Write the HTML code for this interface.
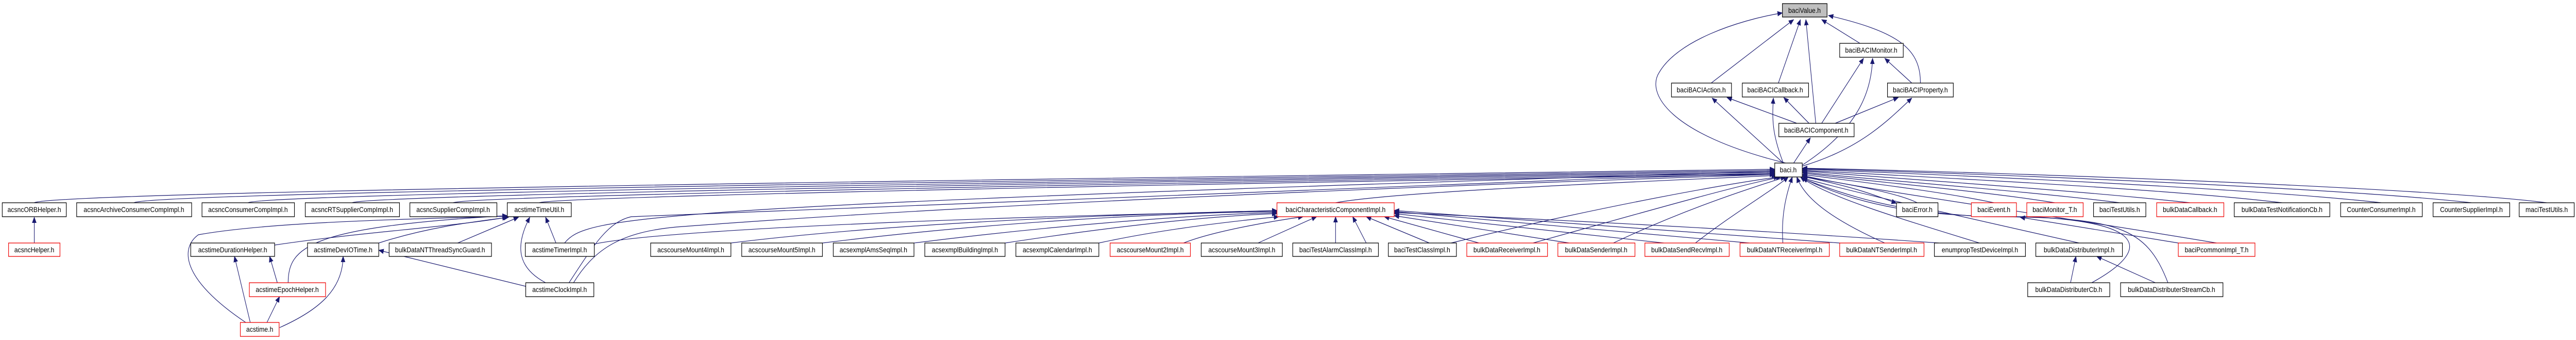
<!DOCTYPE html>
<html><head><meta charset="utf-8"><style>
html,body{margin:0;padding:0;background:#fff;overflow:hidden;width:100%;height:100%}
svg{display:block;width:100vw;height:100vh}
text{font-family:"Liberation Sans",sans-serif;font-size:14px;text-anchor:middle;fill:#000}
.n{fill:#fff;stroke:#000;stroke-width:1.3}
.r{fill:#fff;stroke:#e00;stroke-width:1.3}
.e{fill:none;stroke:#191970;stroke-width:1.2}
</style></head><body>
<svg viewBox="0 0 5713 659" preserveAspectRatio="none" xmlns="http://www.w3.org/2000/svg">
<defs><marker id="a" markerUnits="userSpaceOnUse" markerWidth="12" markerHeight="10" refX="11" refY="5" orient="auto"><path d="M0,0 L12,5 L0,10 z" fill="#191970"/></marker></defs>
<g class="e" marker-end="url(#a)">
<path d="M3960,316 C3700,260 3650,180 3680,140 C3720,80 3850,40 3953,25"/>
<path d="M3795,161 L3978,38"/>
<path d="M3944,161 L3993,38"/>
<path d="M4027,239 L4005,38"/>
<path d="M4125,84 L4040,38"/>
<path d="M4259,161 C4260,90 4200,60 4055,30"/>
<path d="M4240,161 L4180,113"/>
<path d="M3985,239 L3830,189"/>
<path d="M4012,239 L3956,189"/>
<path d="M4040,239 L4133,113"/>
<path d="M4070,239 L4210,189"/>
<path d="M3955,316 L3797,190"/>
<path d="M3955,316 C3930,260 3930,230 3933,190"/>
<path d="M3978,316 L4015,267"/>
<path d="M3997,320 C4120,250 4150,180 4153,113"/>
<path d="M3997,322 C4120,290 4180,240 4240,190"/>
<path d="M76,393 C120,370 2500,345 3936,328"/>
<path d="M297,393 C330,372 2500,348 3936,330"/>
<path d="M550,393 C580,375 2500,350 3936,332"/>
<path d="M781,393 C810,378 2500,352 3936,334"/>
<path d="M1005,393 C1030,380 2500,355 3936,336"/>
<path d="M1196,393 C1220,382 2500,358 3936,338"/>
<path d="M2962,393 C3100,370 3700,350 3940,340"/>
<path d="M4252,393 C4200,370 4050,350 3997,342"/>
<path d="M4422,393 C4300,370 4100,350 3997,338"/>
<path d="M4557,393 C4400,370 4100,348 3997,335"/>
<path d="M4701,393 C4500,370 4100,345 3997,333"/>
<path d="M4857,393 C4600,368 4150,343 3997,331"/>
<path d="M5061,393 C4800,365 4200,340 3997,330"/>
<path d="M5281,393 C5000,365 4300,338 3997,328"/>
<path d="M5481,393 C5200,365 4400,336 3997,327"/>
<path d="M5648,393 C5400,365 4500,335 3997,326"/>
<path d="M3997,342 C4100,360 4150,375 4206,394"/>
<path d="M76,471 L76,421"/>
<path d="M609,475 C800,450 1000,440 1125,421"/>
<path d="M840,471 C950,440 1050,430 1128,421"/>
<path d="M1015,471 L1150,421"/>
<path d="M1233,471 L1210,421"/>
<path d="M1210,548 C1150,520 1140,480 1175,421"/>
<path d="M639,548 C640,480 680,440 1125,418"/>
<path d="M615,548 L598,497"/>
<path d="M555,625 L520,497"/>
<path d="M592,625 L620,575"/>
<path d="M620,635 C710,600 760,560 761,497"/>
<path d="M545,625 C400,540 400,480 440,455 C600,430 900,425 1125,419"/>
<path d="M1166,555 L840,485"/>
<path d="M1262,548 C1320,470 1350,430 1400,420 C2000,395 3000,360 3936,336"/>
<path d="M1272,548 C1320,480 1380,450 1500,440 C2100,400 3000,365 3936,338"/>
<path d="M1252,471 C1300,420 1400,400 3936,332"/>
<path d="M1318,473 C1500,440 2400,415 2832,410"/>
<path d="M1621,471 C2000,430 2500,415 2832,408"/>
<path d="M1824,471 C2200,430 2600,412 2832,410"/>
<path d="M2027,471 C2400,430 2700,415 2832,412"/>
<path d="M2229,471 C2500,435 2700,418 2832,414"/>
<path d="M2437,471 C2600,440 2780,425 2836,420"/>
<path d="M2625,471 C2700,445 2850,425 2890,420"/>
<path d="M2790,471 L2920,420"/>
<path d="M2962,471 L2962,420"/>
<path d="M3030,471 L3000,420"/>
<path d="M3170,471 L3030,420"/>
<path d="M3280,471 L3070,420"/>
<path d="M3480,471 L3092,418"/>
<path d="M3690,471 L3092,414"/>
<path d="M3880,471 L3092,410"/>
<path d="M4080,471 L3092,408"/>
<path d="M4300,471 C3800,440 3300,420 3092,412"/>
<path d="M3218,471 C3500,410 3800,360 3945,343"/>
<path d="M3400,471 C3650,410 3850,360 3950,343"/>
<path d="M3578,471 C3750,400 3900,360 3960,343"/>
<path d="M3760,471 C3850,410 3930,370 3966,343"/>
<path d="M3954,471 C3950,420 3960,380 3975,343"/>
<path d="M4180,471 C4050,420 4000,380 3985,343"/>
<path d="M4390,471 C4200,420 4050,380 3993,343"/>
<path d="M4611,471 C4300,410 4100,370 3997,345"/>
<path d="M4916,471 C4500,410 4150,370 3997,340"/>
<path d="M4831,471 L4480,421"/>
<path d="M4592,548 L4604,497"/>
<path d="M4780,548 L4650,497"/>
<path d="M4639,548 C4780,480 4750,430 4500,420 C4300,420 4150,410 3997,345"/>
<path d="M4808,548 C4760,440 4700,420 4400,420 C4200,410 4100,380 3997,346"/>
</g>
<rect x="3953" y="7" width="99" height="26" fill="#bfbfbf" stroke="#000" stroke-width="1.3"/><text x="4002" y="25">baciValue.h</text>
<rect class="n" x="4080" y="84" width="141" height="27"/><text x="4150" y="102">baciBACIMonitor.h</text>
<rect class="n" x="3707" y="161" width="133" height="27"/><text x="3773" y="179">baciBACIAction.h</text>
<rect class="n" x="3864" y="161" width="147" height="27"/><text x="3937" y="179">baciBACICallback.h</text>
<rect class="n" x="4186" y="161" width="146" height="27"/><text x="4259" y="179">baciBACIProperty.h</text>
<rect class="n" x="3945" y="239" width="167" height="26"/><text x="4028" y="257">baciBACIComponent.h</text>
<rect class="n" x="3936" y="316" width="61" height="27"/><text x="3966" y="334">baci.h</text>
<rect class="n" x="5" y="393" width="142" height="27"/><text x="76" y="411">acsncORBHelper.h</text>
<rect class="n" x="170" y="393" width="255" height="27"/><text x="297" y="411">acsncArchiveConsumerCompImpl.h</text>
<rect class="n" x="448" y="393" width="205" height="27"/><text x="550" y="411">acsncConsumerCompImpl.h</text>
<rect class="n" x="677" y="393" width="209" height="27"/><text x="781" y="411">acsncRTSupplierCompImpl.h</text>
<rect class="n" x="909" y="393" width="193" height="27"/><text x="1005" y="411">acsncSupplierCompImpl.h</text>
<rect class="n" x="1125" y="393" width="142" height="27"/><text x="1196" y="411">acstimeTimeUtil.h</text>
<rect class="r" x="2832" y="393" width="260" height="27"/><text x="2962" y="411">baciCharacteristicComponentImpl.h</text>
<rect class="n" x="4206" y="393" width="92" height="27"/><text x="4252" y="411">baciError.h</text>
<rect class="r" x="4372" y="393" width="100" height="27"/><text x="4422" y="411">baciEvent.h</text>
<rect class="r" x="4495" y="393" width="125" height="27"/><text x="4557" y="411">baciMonitor_T.h</text>
<rect class="n" x="4643" y="393" width="116" height="27"/><text x="4701" y="411">baciTestUtils.h</text>
<rect class="r" x="4783" y="393" width="149" height="27"/><text x="4857" y="411">bulkDataCallback.h</text>
<rect class="n" x="4955" y="393" width="212" height="27"/><text x="5061" y="411">bulkDataTestNotificationCb.h</text>
<rect class="n" x="5191" y="393" width="181" height="27"/><text x="5281" y="411">CounterConsumerImpl.h</text>
<rect class="n" x="5396" y="393" width="170" height="27"/><text x="5481" y="411">CounterSupplierImpl.h</text>
<rect class="n" x="5587" y="393" width="122" height="27"/><text x="5648" y="411">maciTestUtils.h</text>
<rect class="r" x="19" y="471" width="114" height="26"/><text x="76" y="489">acsncHelper.h</text>
<rect class="n" x="423" y="471" width="186" height="26"/><text x="516" y="489">acstimeDurationHelper.h</text>
<rect class="n" x="682" y="471" width="158" height="26"/><text x="761" y="489">acstimeDevIOTime.h</text>
<rect class="n" x="863" y="471" width="227" height="26"/><text x="976" y="489">bulkDataNTThreadSyncGuard.h</text>
<rect class="n" x="1165" y="471" width="153" height="26"/><text x="1241" y="489">acstimeTimerImpl.h</text>
<rect class="n" x="1443" y="471" width="178" height="26"/><text x="1532" y="489">acscourseMount4Impl.h</text>
<rect class="n" x="1645" y="471" width="179" height="26"/><text x="1734" y="489">acscourseMount5Impl.h</text>
<rect class="n" x="1848" y="471" width="179" height="26"/><text x="1937" y="489">acsexmplAmsSeqImpl.h</text>
<rect class="n" x="2051" y="471" width="178" height="26"/><text x="2140" y="489">acsexmplBuildingImpl.h</text>
<rect class="n" x="2253" y="471" width="184" height="26"/><text x="2345" y="489">acsexmplCalendarImpl.h</text>
<rect class="r" x="2462" y="471" width="178" height="26"/><text x="2551" y="489">acscourseMount2Impl.h</text>
<rect class="n" x="2664" y="471" width="180" height="26"/><text x="2754" y="489">acscourseMount3Impl.h</text>
<rect class="n" x="2867" y="471" width="190" height="26"/><text x="2962" y="489">baciTestAlarmClassImpl.h</text>
<rect class="n" x="3079" y="471" width="151" height="26"/><text x="3154" y="489">baciTestClassImpl.h</text>
<rect class="r" x="3253" y="471" width="179" height="26"/><text x="3342" y="489">bulkDataReceiverImpl.h</text>
<rect class="r" x="3455" y="471" width="171" height="26"/><text x="3540" y="489">bulkDataSenderImpl.h</text>
<rect class="r" x="3648" y="471" width="187" height="26"/><text x="3741" y="489">bulkDataSendRecvImpl.h</text>
<rect class="r" x="3859" y="471" width="198" height="26"/><text x="3958" y="489">bulkDataNTReceiverImpl.h</text>
<rect class="r" x="4080" y="471" width="187" height="26"/><text x="4173" y="489">bulkDataNTSenderImpl.h</text>
<rect class="n" x="4290" y="471" width="202" height="26"/><text x="4391" y="489">enumpropTestDeviceImpl.h</text>
<rect class="n" x="4515" y="471" width="192" height="26"/><text x="4611" y="489">bulkDataDistributerImpl.h</text>
<rect class="r" x="4831" y="471" width="170" height="26"/><text x="4916" y="489">baciPcommonImpl_T.h</text>
<rect class="r" x="553" y="548" width="169" height="27"/><text x="637" y="566">acstimeEpochHelper.h</text>
<rect class="n" x="1166" y="548" width="151" height="27"/><text x="1241" y="566">acstimeClockImpl.h</text>
<rect class="n" x="4497" y="548" width="182" height="27"/><text x="4588" y="566">bulkDataDistributerCb.h</text>
<rect class="n" x="4703" y="548" width="227" height="27"/><text x="4816" y="566">bulkDataDistributerStreamCb.h</text>
<rect class="r" x="533" y="625" width="86" height="27"/><text x="576" y="643">acstime.h</text>
</svg>
</body></html>
